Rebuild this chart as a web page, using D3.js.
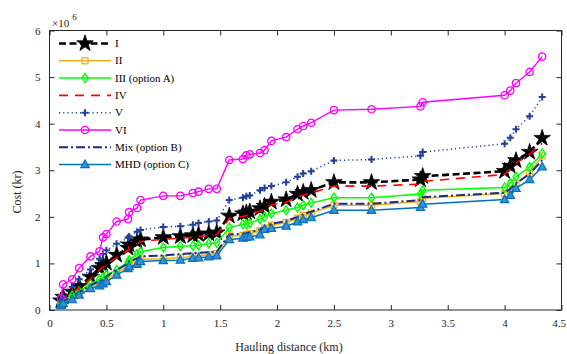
<!DOCTYPE html>
<html>
<head>
<meta charset="utf-8">
<script src="https://cdn.jsdelivr.net/npm/d3@7"></script>
<style>
  body { margin: 0; background: #fff; }
  text { font-family: "Liberation Serif", "DejaVu Serif", serif; }
</style>
</head>
<body>
<div id="chart"></div>
<script>
// hauling distance (km), shared by every series
var distance = [0.1, 0.12, 0.2, 0.26, 0.36, 0.44, 0.47, 0.5, 0.59, 0.69, 0.7, 0.77, 0.8, 1.0, 1.15, 1.26, 1.31, 1.4, 1.47,
  1.58, 1.7, 1.73, 1.76, 1.85, 1.89, 1.95, 2.08, 2.18, 2.23, 2.3, 2.5, 2.83, 3.26, 3.28, 4.0, 4.05, 4.1, 4.22, 4.33];

// cost, x 10^6 kr
var costI = [0.2, 0.28, 0.39, 0.51, 0.71, 0.9, 0.96, 1.01, 1.18, 1.33, 1.40, 1.47, 1.51, 1.56, 1.58, 1.60, 1.62, 1.64, 1.66,
  2.02, 2.07, 2.09, 2.11, 2.18, 2.23, 2.32, 2.37, 2.49, 2.53, 2.57, 2.74, 2.74, 2.80, 2.87, 2.98, 3.09, 3.21, 3.39, 3.69];
var costII = [0.12, 0.17, 0.26, 0.36, 0.50, 0.57, 0.61, 0.66, 0.80, 0.94, 0.99, 1.04, 1.09, 1.10, 1.12, 1.15, 1.16, 1.19, 1.21,
  1.59, 1.60, 1.62, 1.64, 1.70, 1.76, 1.82, 1.88, 1.97, 2.03, 2.08, 2.25, 2.25, 2.33, 2.40, 2.50, 2.59, 2.72, 2.93, 3.31];
var costIII = [0.15, 0.22, 0.31, 0.40, 0.56, 0.66, 0.70, 0.75, 0.86, 1.02, 1.07, 1.20, 1.25, 1.34, 1.37, 1.38, 1.39, 1.43, 1.44,
  1.77, 1.84, 1.84, 1.86, 1.95, 2.00, 2.07, 2.14, 2.20, 2.25, 2.30, 2.41, 2.41, 2.49, 2.57, 2.63, 2.72, 2.86, 3.07, 3.36];
var costIV = [0.18, 0.26, 0.37, 0.48, 0.67, 0.86, 0.92, 0.97, 1.13, 1.28, 1.36, 1.43, 1.47, 1.52, 1.54, 1.56, 1.58, 1.60, 1.62,
  1.96, 2.01, 2.03, 2.05, 2.12, 2.17, 2.26, 2.31, 2.43, 2.47, 2.51, 2.66, 2.66, 2.70, 2.76, 2.91, 3.03, 3.16, 3.34, 3.58];
var costV = [0.2, 0.3, 0.5, 0.66, 0.87, 1.1, 1.2, 1.28, 1.42, 1.55, 1.58, 1.68, 1.72, 1.78, 1.80, 1.83, 1.87, 1.90, 1.92,
  2.36, 2.41, 2.44, 2.46, 2.57, 2.62, 2.66, 2.74, 2.86, 2.93, 2.98, 3.21, 3.23, 3.31, 3.39, 3.57, 3.70, 3.88, 4.16, 4.57];
var costVI = [0.25, 0.55, 0.66, 0.90, 1.15, 1.26, 1.56, 1.63, 1.90, 1.95, 2.10, 2.19, 2.36, 2.45, 2.45, 2.51, 2.54, 2.60, 2.60,
  3.22, 3.24, 3.32, 3.34, 3.37, 3.43, 3.63, 3.71, 3.88, 3.95, 4.02, 4.29, 4.31, 4.37, 4.46, 4.61, 4.71, 4.87, 5.11, 5.44];
var costMix = [0.13, 0.19, 0.28, 0.38, 0.53, 0.62, 0.66, 0.72, 0.86, 1.00, 1.05, 1.10, 1.15, 1.17, 1.20, 1.22, 1.23, 1.24, 1.25,
  1.62, 1.64, 1.65, 1.67, 1.73, 1.79, 1.85, 1.91, 2.00, 2.06, 2.11, 2.28, 2.28, 2.36, 2.42, 2.52, 2.60, 2.72, 2.92, 3.22];
var costMHD = [0.10, 0.14, 0.22, 0.32, 0.46, 0.52, 0.56, 0.61, 0.75, 0.89, 0.93, 0.98, 1.04, 1.06, 1.07, 1.11, 1.12, 1.14, 1.16,
  1.51, 1.54, 1.56, 1.57, 1.61, 1.73, 1.75, 1.80, 1.89, 1.94, 1.98, 2.14, 2.14, 2.20, 2.27, 2.37, 2.46, 2.61, 2.80, 3.07];

var seriesNames = ["I", "II", "III (option A)", "IV", "V", "VI", "Mix (option B)", "MHD (option C)"];
var xTicks = [0, 0.5, 1, 1.5, 2, 2.5, 3, 3.5, 4, 4.5];
var yTicks = [0, 1, 2, 3, 4, 5, 6];

var width = 567, height = 354;
var plotLeft = 49.5, plotRight = 561.5, plotTop = 30.5, plotBottom = 310;

var series = [
  { name: seriesNames[0], values: costI, color: "#000", width: 2.6, dash: "7,3.5", marker: "star" },
  { name: seriesNames[1], values: costII, color: "#EDB120", width: 1.5, dash: null, marker: "square" },
  { name: seriesNames[2], values: costIII, color: "#00FF00", width: 1.5, dash: null, marker: "diamond" },
  { name: seriesNames[3], values: costIV, color: "#FF0000", width: 1.6, dash: "9,7", marker: null },
  { name: seriesNames[4], values: costV, color: "#22409a", width: 1.5, dash: "1.2,3", marker: "plus" },
  { name: seriesNames[5], values: costVI, color: "#FF00FF", width: 1.4, dash: null, marker: "circle" },
  { name: seriesNames[6], values: costMix, color: "#1c2c82", width: 2, dash: "9,3,2,3", marker: null },
  { name: seriesNames[7], values: costMHD, color: "#0072BD", width: 1.5, dash: null, marker: "triangle" }
];

var x = d3.scaleLinear().domain([0, 4.5]).range([plotLeft, plotRight]);
var y = d3.scaleLinear().domain([0, 6]).range([plotBottom, plotTop]);

var svg = d3.select("#chart").append("svg")
  .attr("width", width)
  .attr("height", height);

var line = d3.line()
  .x(function (d) { return x(d[0]); })
  .y(function (d) { return y(d[1]); });

function drawMarker(g, type, color) {
  if (type == "star") {
    g.append("path").attr("d", d3.symbol().type(d3.symbolStar).size(85)())
      .attr("fill", color).attr("stroke", color).attr("stroke-width", 0.8);
  } else if (type == "square") {
    g.append("rect").attr("x", -3).attr("y", -3).attr("width", 6).attr("height", 6)
      .attr("fill", "none").attr("stroke", color).attr("stroke-width", 1.3);
  } else if (type == "diamond") {
    g.append("path").attr("d", "M0,-4.5L3,0L0,4.5L-3,0Z")
      .attr("fill", "none").attr("stroke", color).attr("stroke-width", 1.4);
  } else if (type == "plus") {
    g.append("path").attr("d", "M-3.5,0H3.5M0,-3.5V3.5")
      .attr("stroke", color).attr("stroke-width", 2);
  } else if (type == "circle") {
    g.append("circle").attr("r", 3.7)
      .attr("fill", "none").attr("stroke", color).attr("stroke-width", 1.3);
  } else if (type == "triangle") {
    g.append("path").attr("d", "M0,-4.6L4.2,3L-4.2,3Z")
      .attr("fill", "#3d8fd0").attr("stroke", color).attr("stroke-width", 1.2);
  }
}

// lines, in legend order
series.forEach(function (s) {
  var pts = distance.map(function (d, i) { return [d, s.values[i]]; });
  svg.append("path")
    .datum(pts)
    .attr("d", line)
    .attr("fill", "none")
    .attr("stroke", s.color)
    .attr("stroke-width", s.width)
    .attr("stroke-dasharray", s.dash);
  if (s.marker) {
    svg.append("g").selectAll("g")
      .data(pts)
      .enter()
      .append("g")
      .attr("transform", function (d) { return "translate(" + x(d[0]) + "," + y(d[1]) + ")"; })
      .each(function () { drawMarker(d3.select(this), s.marker, s.color); });
  }
});

// box and ticks (MATLAB style, ticks inside on all four sides)
var axisColor = "#262626";
var xAxisG = svg.append("g").attr("transform", "translate(0," + plotBottom + ")")
  .call(d3.axisBottom(x).tickValues(xTicks).tickSize(-5).tickPadding(9).tickFormat(d3.format("")))
  .call(function (g) { g.select(".domain").remove(); });
// last label sits on the window edge, nudge it in a little
xAxisG.selectAll(".tick text").filter(function (d) { return d == 4.5; }).attr("dx", -3);

svg.append("g").attr("transform", "translate(0," + plotTop + ")")
  .call(d3.axisTop(x).tickValues(xTicks).tickSize(-5).tickFormat(""))
  .call(function (g) { g.select(".domain").remove(); });
svg.append("g").attr("transform", "translate(" + plotLeft + ",0)")
  .call(d3.axisLeft(y).tickValues(yTicks).tickSize(-5).tickPadding(9).tickFormat(d3.format("")))
  .call(function (g) { g.select(".domain").remove(); });
svg.append("g").attr("transform", "translate(" + plotRight + ",0)")
  .call(d3.axisRight(y).tickValues(yTicks).tickSize(-5).tickFormat(""))
  .call(function (g) { g.select(".domain").remove(); });

svg.selectAll(".tick line").attr("stroke", axisColor);
svg.selectAll(".tick text")
  .attr("fill", axisColor)
  .style("font-family", "'Liberation Serif', serif")
  .style("font-size", "11px");

svg.append("rect")
  .attr("x", plotLeft).attr("y", plotTop)
  .attr("width", plotRight - plotLeft).attr("height", plotBottom - plotTop)
  .attr("fill", "none").attr("stroke", axisColor).attr("stroke-width", 1);

// exponent label
var expo = svg.append("text").attr("x", 52).attr("y", 27)
  .attr("fill", axisColor).style("font-size", "11px");
expo.append("tspan").text("\u00d710");
expo.append("tspan").attr("dy", -7).attr("dx", 3).style("font-size", "9px").text("6");

// axis titles
svg.append("text")
  .attr("x", 289).attr("y", 351)
  .attr("text-anchor", "middle")
  .attr("fill", axisColor)
  .style("font-size", "12px")
  .text("Hauling distance (km)");
svg.append("text")
  .attr("transform", "translate(21,192) rotate(-90)")
  .attr("text-anchor", "middle")
  .attr("fill", axisColor)
  .style("font-size", "12px")
  .text("Cost (kr)");

// legend
var legend = svg.selectAll(".legend")
  .data(series)
  .enter()
  .append("g")
  .attr("class", "legend")
  .attr("transform", function (d, i) { return "translate(0," + (43.5 + i * 17.3) + ")"; });

legend.append("line")
  .attr("x1", 59).attr("x2", 111)
  .attr("stroke", function (d) { return d.color; })
  .attr("stroke-width", function (d) { return d.width; })
  .attr("stroke-dasharray", function (d) { return d.dash; });

legend.each(function (d) {
  if (d.marker) {
    var m = d3.select(this).append("g").attr("transform", "translate(85,0)");
    drawMarker(m, d.marker, d.color);
  }
});

legend.append("text")
  .attr("x", 115).attr("y", 3.5)
  .attr("fill", "#000")
  .style("font-size", "11px")
  .text(function (d) { return d.name; });
</script>
</body>
</html>
